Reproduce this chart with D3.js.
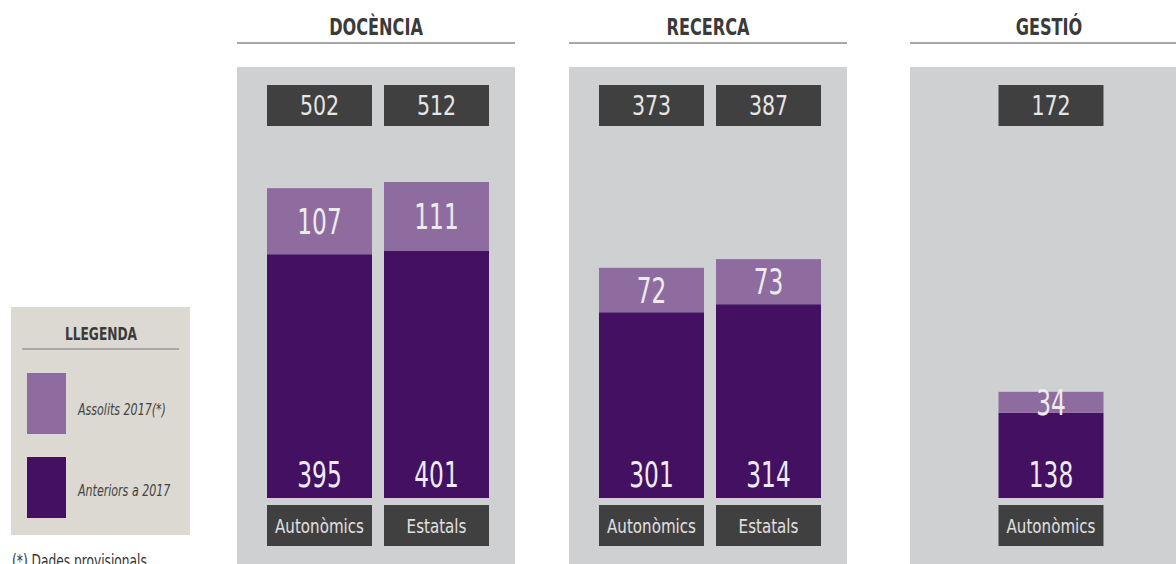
<!DOCTYPE html>
<html>
<head>
	<meta charset="utf-8">
	<title></title>
	<script src="https://d3js.org/d3.v7.min.js" charset="utf-8"></script>
	<style type="text/css">
		body {
			margin: 0;
			background-color: #ffffff;
		}
		svg text {
			font-family: 'DejaVu Sans Condensed', 'DejaVu Sans', sans-serif;
		}
	</style>
</head>
<body>
	<div id="chart"></div>

	<script type="text/javascript">

		// dades
		var areas = ['DOCÈNCIA', 'RECERCA', 'GESTIÓ'];
		var categories = [['Autonòmics', 'Estatals'], ['Autonòmics', 'Estatals'], ['Autonòmics']];
		var anteriors = [[395, 401], [301, 314], [138]];
		var assolits = [[107, 111], [72, 73], [34]];
		var totals = [[502, 512], [373, 387], [172]];
		var legendLabels = ['Assolits 2017(*)', 'Anteriors a 2017'];

		var w = 1176;
		var h = 564;

		var panelLeft = [237, 569, 910];
		var panelW = 278;
		var barW = 105;

		var colLight = '#8f6ca0';
		var colDark = '#431062';
		var colBox = '#404040';
		var colPanel = '#cfd0d2';

		// la font original es condensada: s'estreny amb scale
		function tr(x, y, s) {
			return 'translate(' + x + ',' + y + ') scale(' + s + ',1)';
		}

		var svg = d3.select('#chart')
			.append('svg')
			.attr('width', w)
			.attr('height', h);

		var y = d3.scaleLinear()
			.domain([0, 512])
			.range([498, 182]);

		areas.forEach(function(area, i) {

			var g = svg.append('g')
				.attr('transform', 'translate(' + panelLeft[i] + ',0)');

			// titol i linia
			g.append('text')
				.text(area)
				.attr('transform', tr(panelW / 2, 35, 0.78))
				.attr('text-anchor', 'middle')
				.attr('font-size', '23px')
				.attr('font-weight', 'bold')
				.attr('fill', '#3a3a3a');

			g.append('line')
				.attr('x1', 0)
				.attr('x2', panelW)
				.attr('y1', 43)
				.attr('y2', 43)
				.attr('stroke', '#8a8a8a')
				.attr('stroke-width', 1.5);

			g.append('rect')
				.attr('x', 0)
				.attr('y', 67)
				.attr('width', panelW)
				.attr('height', 510)
				.attr('fill', colPanel);

			var x = d3.scaleBand()
				.domain(categories[i])
				.range([2, panelW + 2])
				.paddingInner(0.1)
				.paddingOuter(0.238);

			var rows = categories[i].map(function(c, j) {
				return { cat: c, ant: anteriors[i][j], ass: assolits[i][j], tot: totals[i][j] };
			});

			var bx = function(d) { return x(d.cat) + x.bandwidth() / 2 - barW / 2; };
			var cx = function(d) { return x(d.cat) + x.bandwidth() / 2; };

			var bar = g.selectAll('g.bar')
				.data(rows)
				.enter()
				.append('g')
				.attr('class', 'bar');

			// total
			bar.append('rect')
				.attr('x', bx)
				.attr('y', 85)
				.attr('width', barW)
				.attr('height', 41)
				.attr('fill', colBox);
			bar.append('text')
				.text(function(d) { return d.tot; })
				.attr('transform', function(d) { return tr(cx(d), 115, 0.88); })
				.attr('text-anchor', 'middle')
				.attr('font-size', '26px')
				.attr('fill', '#e6e6e6');

			// anteriors
			bar.append('rect')
				.attr('x', bx)
				.attr('y', function(d) { return y(d.ant); })
				.attr('width', barW)
				.attr('height', function(d) { return y(0) - y(d.ant); })
				.attr('fill', colDark);

			// assolits
			bar.append('rect')
				.attr('x', bx)
				.attr('y', function(d) { return y(d.ant + d.ass); })
				.attr('width', barW)
				.attr('height', function(d) { return y(d.ant) - y(d.ant + d.ass); })
				.attr('fill', colLight);

			bar.append('text')
				.text(function(d) { return d.ant; })
				.attr('transform', function(d) { return tr(cx(d), y(0) - 11, 0.74); })
				.attr('text-anchor', 'middle')
				.attr('font-size', '35px')
				.attr('fill', '#ececec');

			bar.append('text')
				.text(function(d) { return d.ass; })
				.attr('transform', function(d) {
					return tr(cx(d), (y(d.ant) + y(d.ant + d.ass)) / 2, 0.74);
				})
				.attr('dy', '0.36em')
				.attr('text-anchor', 'middle')
				.attr('font-size', '35px')
				.attr('fill', '#ececec');

			// categoria
			bar.append('rect')
				.attr('x', bx)
				.attr('y', 505)
				.attr('width', barW)
				.attr('height', 41)
				.attr('fill', colBox);
			bar.append('text')
				.text(function(d) { return d.cat; })
				.attr('transform', function(d) { return tr(cx(d), 533, 0.84); })
				.attr('text-anchor', 'middle')
				.attr('font-size', '20px')
				.attr('fill', '#e0e0e0');
		});

		// llegenda
		var lg = svg.append('g');

		lg.append('rect')
			.attr('x', 11)
			.attr('y', 307)
			.attr('width', 179)
			.attr('height', 228)
			.attr('fill', '#dbd9d1');

		lg.append('text')
			.text('LLEGENDA')
			.attr('transform', tr(101, 340, 0.8))
			.attr('text-anchor', 'middle')
			.attr('font-size', '17px')
			.attr('font-weight', 'bold')
			.attr('fill', '#3a3a3a');

		lg.append('line')
			.attr('x1', 22)
			.attr('x2', 179)
			.attr('y1', 349)
			.attr('y2', 349)
			.attr('stroke', '#7a7a7a')
			.attr('stroke-width', 1.2);

		lg.selectAll('rect.sw')
			.data(legendLabels)
			.enter()
			.append('rect')
			.attr('class', 'sw')
			.attr('x', 27)
			.attr('y', function(d, i) { return 373 + i * 84; })
			.attr('width', 39)
			.attr('height', 61)
			.attr('fill', function(d, i) { return i == 0 ? colLight : colDark; });

		lg.selectAll('text.lab')
			.data(legendLabels)
			.enter()
			.append('text')
			.attr('class', 'lab')
			.text(function(d) { return d; })
			.attr('transform', function(d, i) { return tr(78, 415 + i * 81, 0.82); })
			.attr('font-size', '15px')
			.attr('font-style', 'italic')
			.attr('fill', '#444');

		svg.append('text')
			.text('(*) Dades provisionals')
			.attr('transform', tr(12, 567, 0.8))
			.attr('font-size', '17px')
			.attr('fill', '#333');

	</script>
</body>
</html>
